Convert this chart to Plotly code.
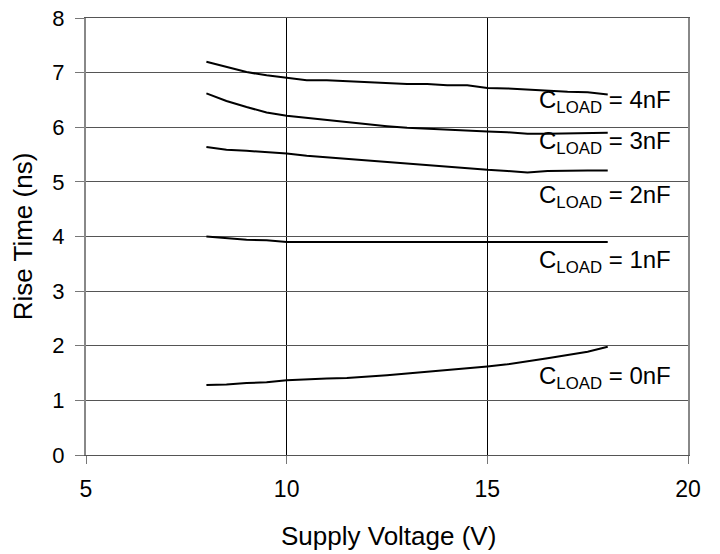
import plotly.graph_objects as go

voltage = [8, 8.5, 9, 9.5, 10, 10.5, 11, 11.5, 12, 12.5, 13, 13.5, 14, 14.5, 15, 15.5, 16, 16.5, 17, 17.5, 18]
rise_4nf = [7.20, 7.10, 7.01, 6.95, 6.90, 6.86, 6.86, 6.84, 6.82, 6.80, 6.79, 6.79, 6.77, 6.77, 6.72, 6.71, 6.69, 6.66, 6.65, 6.64, 6.60]
rise_3nf = [6.62, 6.48, 6.37, 6.27, 6.21, 6.17, 6.14, 6.10, 6.05, 6.02, 5.99, 5.97, 5.95, 5.94, 5.92, 5.91, 5.88, 5.88, 5.89, 5.90, 5.90]
rise_2nf = [5.64, 5.59, 5.57, 5.55, 5.52, 5.48, 5.45, 5.42, 5.39, 5.37, 5.34, 5.31, 5.28, 5.25, 5.22, 5.20, 5.17, 5.20, 5.21, 5.21, 5.21]
rise_1nf = [4.00, 3.97, 3.94, 3.93, 3.90, 3.90, 3.90, 3.90, 3.90, 3.90, 3.90, 3.90, 3.90, 3.90, 3.90, 3.90, 3.90, 3.90, 3.90, 3.90, 3.90]
rise_0nf = [1.28, 1.29, 1.32, 1.33, 1.37, 1.39, 1.40, 1.41, 1.43, 1.46, 1.49, 1.52, 1.55, 1.58, 1.62, 1.66, 1.71, 1.77, 1.83, 1.89, 1.98]

series = [rise_4nf, rise_3nf, rise_2nf, rise_1nf, rise_0nf]
labels = ["C<sub>LOAD</sub> = 4nF", "C<sub>LOAD</sub> = 3nF", "C<sub>LOAD</sub> = 2nF",
          "C<sub>LOAD</sub> = 1nF", "C<sub>LOAD</sub> = 0nF"]
label_y = [6.48, 5.73, 4.73, 3.54, 1.41]
label_x = 19.63
x_title = "Supply Voltage (V)"
y_title = "Rise Time (ns)"

font = "Liberation Sans, Arial, sans-serif"

fig = go.Figure()
for ys in series:
    fig.add_trace(go.Scatter(x=voltage, y=ys, mode="lines",
                             line=dict(color="black", width=2), showlegend=False,
                             hoverinfo="skip"))

for lab, ly in zip(labels, label_y):
    fig.add_annotation(x=label_x, y=ly, xref="x", yref="y", text=lab,
                       showarrow=False, xanchor="right", yanchor="middle",
                       font=dict(family=font, size=24, color="black"))

fig.add_annotation(x=0.503, y=-0.185, xref="paper", yref="paper", text=x_title,
                   showarrow=False, xanchor="center", yanchor="middle",
                   font=dict(family=font, size=26, color="black"))

fig.update_layout(
    width=712, height=546,
    margin=dict(l=78, r=32, t=10, b=99, autoexpand=False),
    paper_bgcolor="white", plot_bgcolor="white",
    font=dict(family=font, size=23, color="black"),
)
fig.update_xaxes(range=[5, 20], tickvals=[5, 10, 15, 20], ticktext=["5", "10", "15", "20"],
                 showgrid=True, gridcolor="black", gridwidth=1,
                 showline=True, linecolor="#555555", linewidth=1, mirror=True,
                 ticks="outside", ticklen=8, tickcolor="#777777",
                 tickfont=dict(size=23), ticklabelstandoff=5, ticklabeloverflow="allow",
                 zeroline=False, automargin=False)
fig.update_yaxes(range=[0, 8], tickvals=list(range(0, 9)),
                 showgrid=True, gridcolor="#555555", gridwidth=1,
                 showline=True, linecolor="#888888", linewidth=2, mirror=True,
                 ticks="outside", ticklen=9, tickcolor="#777777",
                 tickfont=dict(size=22), ticklabelstandoff=6, ticklabeloverflow="allow",
                 zeroline=False, automargin=False,
                 title=dict(text=y_title, font=dict(size=26), standoff=16))

fig.write_html("out.html")
